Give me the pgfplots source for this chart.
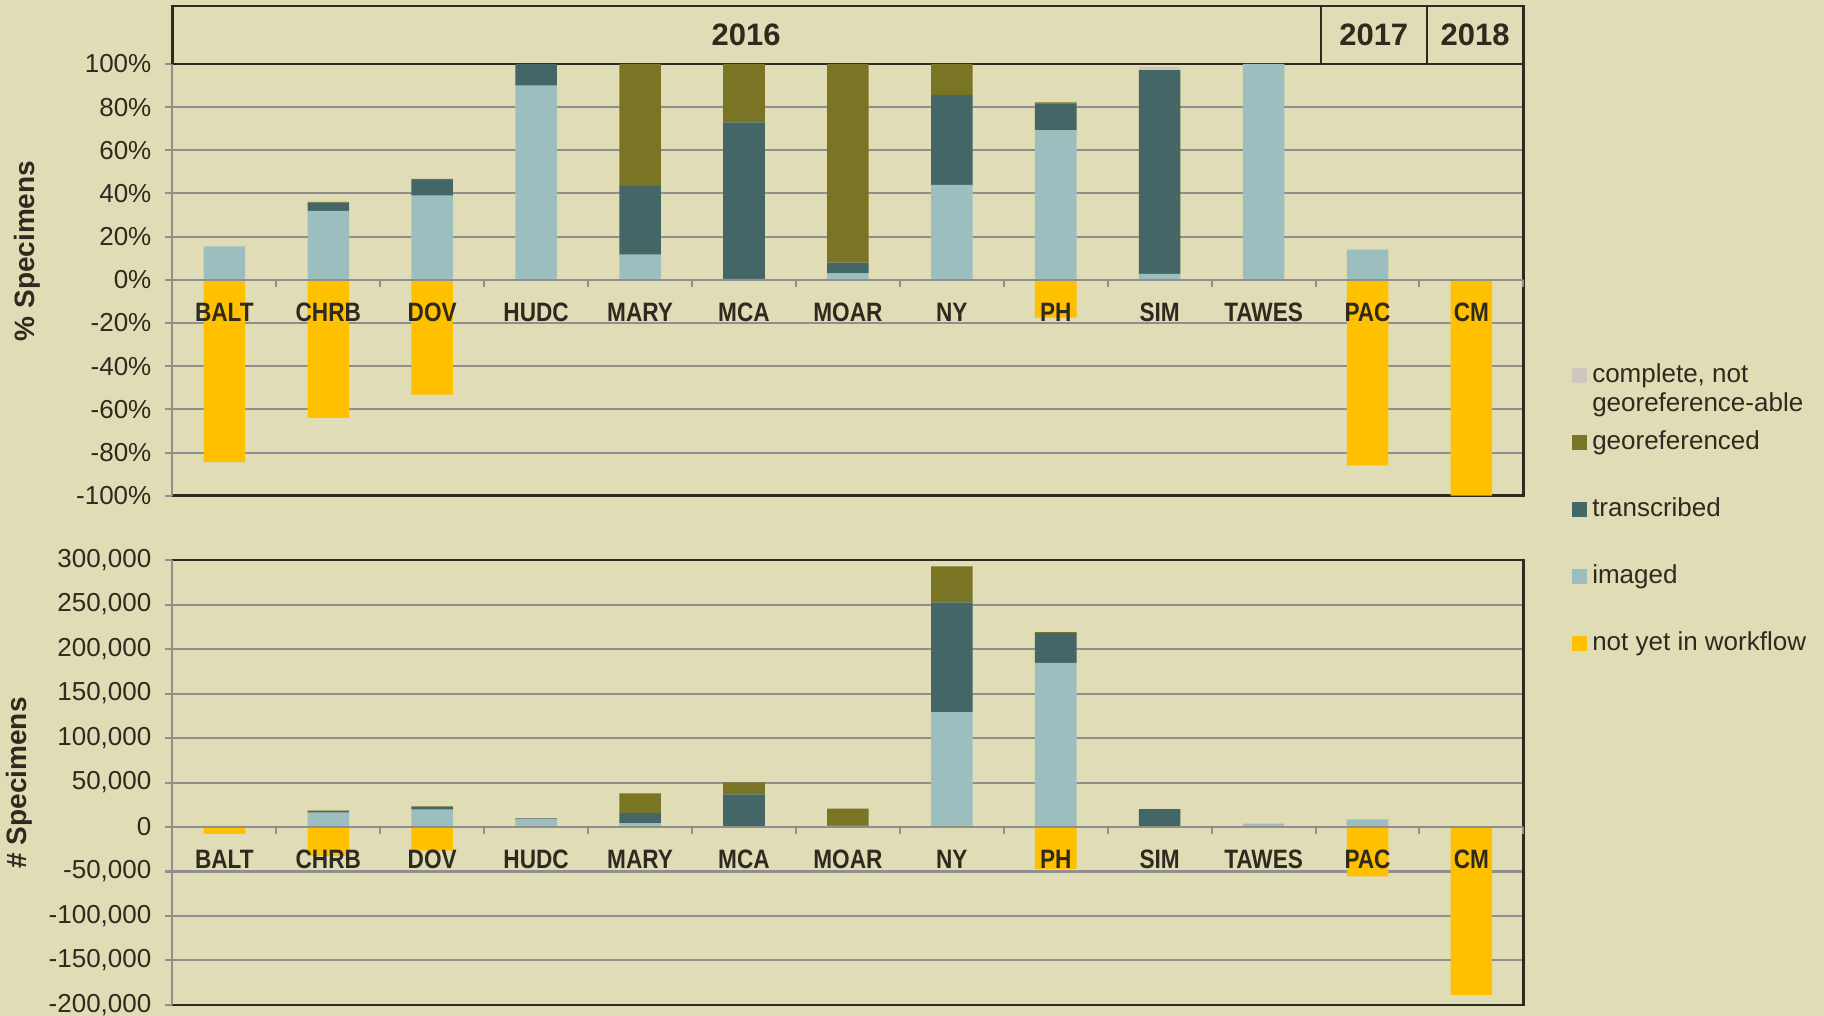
\documentclass[border=0pt]{standalone}
\usepackage{fontspec}
\setmainfont{Liberation Sans}
\newfontfamily\catfont{Liberation Sans}[FakeStretch=0.85]
\usepackage{pgfplots}
\pgfplotsset{compat=1.18}
\usepackage{pgfplotstable}

\definecolor{bgcol}{HTML}{E0DCB6}
\definecolor{imgcol}{HTML}{9DBEBE}
\definecolor{tracol}{HTML}{446666}
\definecolor{geocol}{HTML}{7A7425}
\definecolor{compcol}{HTML}{CEC8BC}
\definecolor{notcol}{HTML}{FFC000}
\definecolor{gridcol}{HTML}{8F8F8F}
\definecolor{txtcol}{HTML}{2E2A1F}
\definecolor{framecol}{HTML}{2E2A1F}

% percent of specimens
\pgfplotstableread{
x img tra geo com not
0 15.5 0 0 0 -84.5
1 32 3.8 0.3 0 -64
2 39 7.2 0.6 0 -53.2
3 90 10 0 0 0
4 11.7 31.8 56.5 0 0
5 0.4 72.6 27 0 0
6 3 5 92 0 0
7 44 41.7 14.3 0 0
8 69.2 12.5 0.5 0 -17.5
9 2.8 94.4 0 1.5 0
10 100 0 0 0 0
11 14 0 0 0 -86
12 0 0 0 0 -100
}\toppct

% number of specimens
\pgfplotstableread{
x img tra geo com not
0 1400 0 0 0 -7600
1 16100 1900 300 0 -32500
2 19500 3000 700 0 -26500
3 8700 1000 0 0 0
4 4300 11600 22000 0 0
5 300 36400 13500 0 0
6 600 1000 19000 0 0
7 129000 123400 40500 0 0
8 184500 33400 1100 0 -47000
9 600 19600 0 350 0
10 3750 0 0 0 0
11 8600 0 0 0 -55500
12 0 0 0 0 -188600
}\botnum

\pgfplotsset{
  base/.style={scale only axis, width=675.5pt, xmin=-0.5, xmax=12.5, clip=false,
    axis line style={draw=none}, /pgf/number format/assume math mode=true,
    tick label style={text=txtcol}},
  main/.style={ybar stacked, bar width=0.4, xtick=\empty, ytick pos=left,
    ytick align=outside, major tick length=3.5pt, tick style={gridcol, line width=1pt},
    ymajorgrids, grid style={gridcol, line width=1pt},
    yticklabel style={font=\fontsize{13}{15}\selectfont, xshift=-3.5pt}},
  over/.style={ybar, bar width=0.4, ytick=\empty, xtick={0,...,12},
    xticklabels={BALT,CHRB,DOV,HUDC,MARY,MCA,MOAR,NY,PH,SIM,TAWES,PAC,CM},
    major tick length=0pt, axis on top,
    xticklabel style={font=\catfont\bfseries\fontsize{13.3}{15}\selectfont, anchor=base}},
  sqleg/.style={legend image code/.code={\fill[#1] (0pt,-3.5pt) rectangle (7pt,3.5pt);}},
}

\begin{document}
\begin{tikzpicture}
\fill[bgcol] (0,0) rectangle (912pt,508pt);
\useasboundingbox (0,0) rectangle (912pt,508pt);

% ---------- top: percentages ----------
\begin{axis}[base, main, at={(86.2pt,260.15pt)}, anchor=south west, height=215.85pt,
  ymin=-100, ymax=100, ytick={-100,-80,...,100},
  yticklabel={\pgfmathprintnumber{\tick}\%},
  legend style={at={(1.036,0.3086)}, anchor=north west, draw=none, fill=none,
    inner sep=0pt, column sep=2.5pt, row sep=3.75pt,
    nodes={inner sep=0pt, text height=10pt, text depth=3pt,
      font=\fontsize{13}{15}\selectfont, text=txtcol}},
  legend cell align=left]
\addplot[fill=imgcol, draw=none, forget plot] table[x=x,y=img]{\toppct};
\addplot[fill=tracol, draw=none, forget plot] table[x=x,y=tra]{\toppct};
\addplot[fill=geocol, draw=none, forget plot] table[x=x,y=geo]{\toppct};
\addplot[fill=compcol, draw=none, forget plot] table[x=x,y=com]{\toppct};
\addlegendimage{sqleg=compcol}\addlegendentry{complete, not}
\addlegendimage{empty legend}\addlegendentry{\raisebox{2.6pt}{georeference-able}}
\addlegendimage{sqleg=geocol}\addlegendentry{georeferenced}
\addlegendimage{empty legend}\addlegendentry{\mbox{}}
\addlegendimage{sqleg=tracol}\addlegendentry{transcribed}
\addlegendimage{empty legend}\addlegendentry{\mbox{}}
\addlegendimage{sqleg=imgcol}\addlegendentry{imaged}
\addlegendimage{empty legend}\addlegendentry{\mbox{}}
\addlegendimage{sqleg=notcol}\addlegendentry{not yet in workflow}
\draw[gridcol, line width=1pt] (rel axis cs:0,0) -- (rel axis cs:0,1);
\draw[framecol, line width=1.2pt] (rel axis cs:0,0) -- (rel axis cs:1,0) -- (rel axis cs:1,1);
\draw[framecol, line width=1.2pt] (axis cs:-0.5,100) rectangle (axis cs:12.5,127);
\draw[framecol, line width=1.2pt] (axis cs:10.55,100) -- (axis cs:10.55,127);
\draw[framecol, line width=1.2pt] (axis cs:11.57,100) -- (axis cs:11.57,127);
\node[font=\bfseries\fontsize{15.5}{18}\selectfont, text=txtcol] at (axis cs:5.02,113.5) {2016};
\node[font=\bfseries\fontsize{15.5}{18}\selectfont, text=txtcol] at (axis cs:11.06,113.5) {2017};
\node[font=\bfseries\fontsize{15.5}{18}\selectfont, text=txtcol] at (axis cs:12.035,113.5) {2018};
\end{axis}

\begin{axis}[base, over, at={(86.2pt,260.15pt)}, anchor=south west, height=215.85pt,
  ymin=-100, ymax=100, xticklabel style={yshift=87pt}]
\addplot[fill=notcol, draw=none] table[x=x,y=not]{\toppct};
\draw[gridcol, line width=1pt] (axis cs:-0.5,0) -- (axis cs:12.5,0);
\pgfplotsinvokeforeach{0.5,1.5,2.5,3.5,4.5,5.5,6.5,7.5,8.5,9.5,10.5,11.5,12.5}{
  \draw[gridcol, line width=1pt] (axis cs:#1,0) -- ++(0pt,-3.5pt);}
\end{axis}

% ---------- bottom: counts ----------
\begin{axis}[base, main, at={(86.2pt,5.5pt)}, anchor=south west, height=222.5pt,
  ymin=-200000, ymax=300000, ytick={-200000,-150000,...,300000},
  scaled y ticks=false,
  yticklabel style={/pgf/number format/fixed, /pgf/number format/1000 sep={,}}]
\addplot[fill=imgcol, draw=none] table[x=x,y=img]{\botnum};
\addplot[fill=tracol, draw=none] table[x=x,y=tra]{\botnum};
\addplot[fill=geocol, draw=none] table[x=x,y=geo]{\botnum};
\addplot[fill=compcol, draw=none] table[x=x,y=com]{\botnum};
\draw[gridcol, line width=1pt] (rel axis cs:0,0) -- (rel axis cs:0,1);
\draw[framecol, line width=1.2pt] (rel axis cs:0,1) -- (rel axis cs:1,1) -- (rel axis cs:1,0) -- (rel axis cs:0,0);
\end{axis}

\begin{axis}[base, over, at={(86.2pt,5.5pt)}, anchor=south west, height=222.5pt,
  ymin=-200000, ymax=300000, xticklabel style={yshift=68pt}]
\addplot[fill=notcol, draw=none] table[x=x,y=not]{\botnum};
\draw[gridcol, line width=1pt] (axis cs:-0.5,0) -- (axis cs:12.5,0);
\pgfplotsinvokeforeach{0.5,1.5,2.5,3.5,4.5,5.5,6.5,7.5,8.5,9.5,10.5,11.5,12.5}{
  \draw[gridcol, line width=1pt] (axis cs:#1,0) -- ++(0pt,-3.5pt);}
\end{axis}

\node[rotate=90, font=\bfseries\fontsize{14}{16}\selectfont, text=txtcol] at (13.5pt,382.5pt) {\% Specimens};
\node[rotate=90, font=\bfseries\fontsize{14}{16}\selectfont, text=txtcol] at (9.5pt,116.5pt) {\# Specimens};
\end{tikzpicture}
\end{document}
